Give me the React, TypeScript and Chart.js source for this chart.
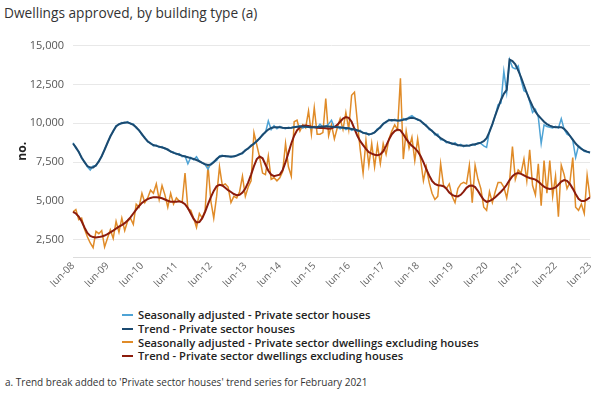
import React, { useEffect, useRef } from 'react';
import { Chart, registerables } from 'chart.js';

Chart.register(...registerables);

const TITLE = 'Dwellings approved, by building type (a)';
const Y_TITLE = 'no.';
const FOOTNOTE = "a. Trend break added to 'Private sector houses' trend series for February 2021";

const MONTH_NAMES = ['Jun', 'Jul', 'Aug', 'Sep', 'Oct', 'Nov', 'Dec', 'Jan', 'Feb', 'Mar', 'Apr', 'May'];
const START_YEAR = 2008;
const N_MONTHS = 181;
const LABELS: string[] = [];
for (let i = 0; i < N_MONTHS; i++) {
  const m = i % 12;
  const yr = START_YEAR + Math.floor(i / 12) + (m >= 7 ? 1 : 0);
  LABELS.push(`${MONTH_NAMES[m]}-${String(yr % 100).padStart(2, '0')}`);
}

const Y_TICKS = [2500, 5000, 7500, 10000, 12500, 15000];

const SERIES_NAMES = [
  'Seasonally adjusted - Private sector houses',
  'Trend - Private sector houses',
  'Seasonally adjusted - Private sector dwellings excluding houses',
  'Trend - Private sector dwellings excluding houses',
];

const COLORS = ['#4ea3d5', '#1b4a70', '#e08b28', '#8c1c0c'];

const HOUSES_SA = [
  8750, 8400, 8200, 7750, 7550, 7200, 7000, 7250, 7250, 7600, 7850, 8350,
  8700, 9200, 9450, 9850, 9900, 10050, 10000, 10100, 9950, 9950, 9700, 9550,
  9250, 9100, 8800, 8750, 8550, 8600, 8450, 8500, 8350, 8350, 8150, 8150,
  8000, 8050, 7850, 7900, 7400, 7800, 7650, 7850, 7550, 7450, 7350, 7050,
  7400, 7550, 7600, 7900, 7950, 7850, 7900, 7800, 7900, 7950, 8050, 8050,
  8300, 8350, 8600, 8650, 8900, 9000, 9300, 9400, 10150, 9600, 9850, 9650,
  9800, 9700, 9650, 9750, 9700, 9800, 9750, 9850, 9700, 9800, 9750, 9700,
  9800, 9700, 9950, 9750, 9800, 9950, 10200, 9750, 9800, 9650, 9750, 9600,
  9700, 9550, 9650, 9500, 9550, 9350, 9400, 9250, 9350, 9400, 9650, 9700,
  10000, 10050, 10250, 10150, 10250, 10150, 10200, 10300, 10200, 10400, 10500, 10350,
  10200, 10200, 9950, 9900, 9600, 9550, 9250, 9300, 8950, 8950, 8750, 8800,
  8650, 8750, 8550, 8650, 8500, 8600, 8550, 8650, 8600, 8750, 8700, 8550,
  8450, 9500, 9900, 10500, 11200, 11300, 13350, 12000, 14100, 13600, 13500, 13700,
  12800, 12100, 12000, 11400, 10700, 10900, 10400, 8700, 9900, 9800, 9750, 9700,
  9800, 9700, 10300, 9600, 9300, 9200, 8900, 7800, 8550, 8400, 8200, 8150,
  8100,
];

const HOUSES_TREND = [
  8700, 8450, 8150, 7800, 7500, 7250, 7150, 7150, 7300, 7550, 7900, 8300,
  8750, 9150, 9500, 9800, 9950, 10000, 10050, 10050, 10000, 9900, 9750, 9550,
  9300, 9050, 8850, 8700, 8600, 8550, 8500, 8450, 8400, 8300, 8200, 8100,
  8050, 7980, 7920, 7870, 7820, 7760, 7700, 7640, 7560, 7460, 7370, 7320,
  7350, 7500, 7700, 7850, 7900, 7900, 7870, 7860, 7870, 7920, 8000, 8100,
  8250, 8400, 8550, 8700, 8850, 9050, 9250, 9450, 9600, 9700, 9750, 9750,
  9750, 9720, 9700, 9700, 9720, 9750, 9780, 9800, 9800, 9780, 9760, 9750,
  9750, 9760, 9780, 9800, 9810, 9800, 9780, 9760, 9750, 9740, 9720, 9700,
  9680, 9640, 9600, 9550, 9480, 9400, 9340, 9300, 9320, 9420, 9580, 9760,
  9950, 10100, 10200, 10220, 10200, 10180, 10180, 10220, 10280, 10330, 10350, 10320,
  10250, 10150, 10000, 9830, 9660, 9500, 9340, 9180, 9050, 8930, 8820, 8750,
  8700, 8650, 8600, 8580, 8560, 8560, 8580, 8620, 8660, 8700, 8760, 8850,
  9050, 9450, 9950, 10500, 11000, 11500, 11900, 12150, 14100, 14000, 13800, 13400,
  12950, 12450, 11950, 11500, 11100, 10750, 10500, 10300, 10100, 9950, 9850, 9780,
  9750, 9750, 9750, 9650, 9450, 9200, 8950, 8700, 8500, 8350, 8250, 8180,
  8120,
];

const UNITS_SA = [
  4300, 4450, 3800, 3900, 3200, 2700, 2300, 2000, 3050, 2900, 3100, 2050,
  2600, 3150, 2600, 3700, 3000, 3900, 3100, 3700, 3900, 3500, 4800, 4600,
  5500, 4900, 5200, 5700, 5500, 6100, 5100, 6000, 5400, 4600, 5500, 4800,
  5200, 5000, 4900, 6800, 4500, 4400, 3900, 3300, 4200, 3900, 4400, 7300,
  5000, 3900, 5300, 7200, 6000, 6100, 5900, 4900, 5300, 5200, 5600, 6600,
  5300, 5900, 6300, 9400, 8600, 7800, 6800, 6700, 7900, 6400, 6500, 6300,
  6500, 6900, 8700, 7200, 6600, 10100, 10200, 9500, 9900, 9700, 10800, 9300,
  11000, 9300, 9300, 9400, 11600, 9200, 9900, 9000, 9700, 10300, 9600, 10700,
  9600, 11800, 12000, 10100, 8300, 6800, 8900, 7300, 8700, 7200, 8600, 7400,
  8700, 8000, 9000, 9500, 9900, 9600, 12900, 7700, 9500, 8400, 9100, 7600,
  9000, 7700, 6300, 7200, 6200, 5500, 5100, 5300, 7400, 6000, 5800, 6100,
  5300, 4900, 5800, 6100, 6200, 6100, 7300, 4900, 7300, 6400, 5800, 4600,
  4400, 5600, 4900, 5600, 6200, 6200, 5900, 5200, 6300, 8500, 6400, 7000,
  6800, 7700, 6300, 8300, 6000, 5400, 7400, 4700, 7600, 5500, 7600, 5300,
  6600, 4000, 7300, 6700, 5800, 6200, 7800, 4600, 4400, 4800, 4200, 6650,
  5250,
];

const UNITS_TREND = [
  4300, 4200, 4000, 3700, 3300, 2950, 2750, 2680, 2660, 2680, 2720, 2780,
  2870, 2980, 3100, 3230, 3350, 3450, 3580, 3750, 3950, 4200, 4450, 4680,
  4880, 5020, 5120, 5200, 5250, 5250, 5230, 5180, 5100, 5020, 4960, 4950,
  4950, 4980, 4930, 4800, 4550, 4200, 3850, 3620, 3650, 3900, 4300, 4800,
  5250, 5650, 5950, 6050, 6000, 5850, 5700, 5580, 5450, 5380, 5400, 5550,
  5800, 6200, 6700, 7250, 7700, 7870, 7750, 7350, 6950, 6700, 6600, 6650,
  6700, 7000, 7500, 8100, 8700, 9200, 9550, 9750, 9850, 9860, 9830, 9780,
  9740, 9720, 9700, 9700, 9680, 9650, 9680, 9750, 9900, 10100, 10300, 10400,
  10350, 10100, 9650, 9200, 8850, 8600, 8350, 8150, 8050, 7980, 7950, 8000,
  8200, 8550, 8950, 9300, 9500, 9600, 9550, 9300, 9000, 8750, 8550, 8400,
  8200, 7900, 7500, 7050, 6650, 6300, 6100, 6020, 6000, 5950, 5800, 5550,
  5400, 5320, 5300, 5400, 5600, 5850, 5980, 6000, 5900, 5650, 5350, 5080,
  4950, 5000, 5100, 5250, 5420, 5600, 5800, 6050, 6350, 6600, 6750, 6800,
  6750, 6650, 6550, 6480, 6430, 6380, 6250, 6080, 5920, 5820, 5780, 5800,
  5880, 6050, 6250, 6350, 6300, 6100, 5800, 5450, 5150, 5000, 5000, 5100,
  5250,
];

const FONT = "'Open Sans', 'Noto Sans', sans-serif";

export default function App() {
  const canvasRef = useRef<HTMLCanvasElement | null>(null);

  useEffect(() => {
    const canvas = canvasRef.current;
    if (!canvas) return;
    const data = [HOUSES_SA, HOUSES_TREND, UNITS_SA, UNITS_TREND];
    const chart = new Chart(canvas, {
      type: 'line',
      data: {
        labels: LABELS,
        datasets: data.map((d, k) => ({
          label: SERIES_NAMES[k],
          data: d,
          borderColor: COLORS[k],
          backgroundColor: COLORS[k],
          borderWidth: k % 2 === 1 ? 2 : 1.5,
          pointRadius: 0,
          tension: 0,
          order: k % 2 === 1 ? 0 : 1,
        })),
      },
      options: {
        animation: false,
        responsive: false,
        maintainAspectRatio: false,
        layout: { padding: { top: 15, right: 12, left: 0, bottom: 0 } },
        plugins: {
          legend: { display: false },
          tooltip: { enabled: false },
          title: { display: false },
        },
        scales: {
          x: {
            type: 'category',
            offset: false,
            grid: { display: false, drawTicks: false },
            border: { display: true, color: '#dcdcdc', width: 1 },
            ticks: {
              autoSkip: false,
              maxRotation: 45,
              minRotation: 45,
              color: '#666',
              padding: 3,
              font: { family: FONT, size: 10 },
              callback: (_v: any, i: number) => (LABELS[i].startsWith('Jun') ? LABELS[i] : null),
            },
            afterFit: (s: any) => {
              s.height = 30;
            },
          },
          y: {
            min: 1400,
            max: 15000,
            afterBuildTicks: (s: any) => {
              s.ticks = Y_TICKS.map((v) => ({ value: v }));
            },
            grid: { color: '#e8e8e8', drawTicks: false },
            border: { display: false },
            ticks: {
              color: '#555',
              padding: 9,
              font: { family: FONT, size: 11 },
            },
            title: {
              display: true,
              text: Y_TITLE,
              color: '#222',
              font: { family: FONT, size: 12, weight: 'bold' },
              padding: { top: 15, bottom: 0 },
            },
            afterFit: (s: any) => {
              s.width = 73;
            },
          },
        },
      } as any,
    });
    return () => chart.destroy();
  }, []);

  return (
    <div style={{ position: 'absolute', left: 0, top: 0, width: 602, height: 395, background: '#fff', fontFamily: FONT, overflow: 'hidden' }}>
      <div style={{ position: 'absolute', left: 4, top: 3, fontSize: 13.7, color: '#333', whiteSpace: 'nowrap' }}>{TITLE}</div>
      <canvas ref={canvasRef} width={602} height={257} style={{ position: 'absolute', left: 0, top: 30, width: 602, height: 257 }} />
      <div style={{ position: 'absolute', left: 122, top: 308 }}>
        {SERIES_NAMES.map((name, k) => (
          <div key={k} style={{ display: 'flex', alignItems: 'center', height: 13.7, fontSize: 11.2, fontWeight: 600, color: '#222', whiteSpace: 'nowrap' }}>
            <span style={{ display: 'inline-block', width: 11, height: 2, background: COLORS[k], marginRight: 5 }} />
            <span>{name}</span>
          </div>
        ))}
      </div>
      <div style={{ position: 'absolute', left: 5, top: 375, fontSize: 10, color: '#333', whiteSpace: 'nowrap' }}>{FOOTNOTE}</div>
    </div>
  );
}
